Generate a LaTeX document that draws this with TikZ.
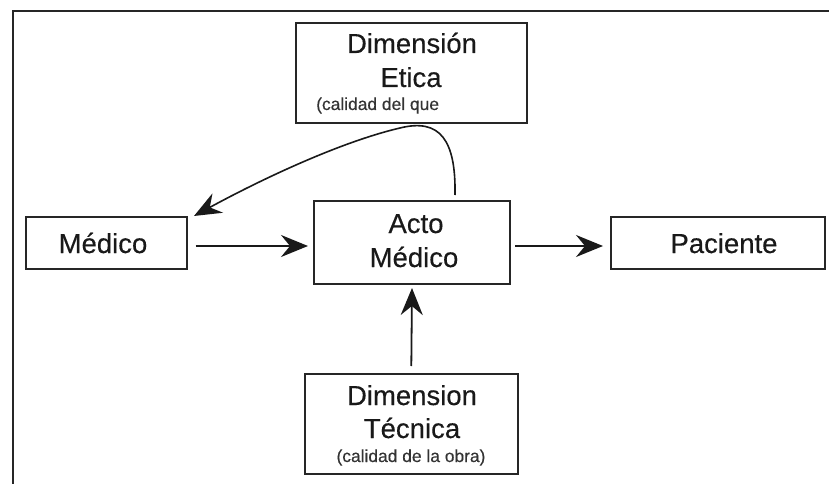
\documentclass[tikz,border=0pt]{standalone}
\usepackage{fontspec}
\setmainfont{Liberation Sans}[FakeBold=0.3]
\usetikzlibrary{arrows.meta}
\begin{document}
\begin{tikzpicture}[x=1pt,y=-1pt,
  box/.style={draw=black!85,line width=2pt,inner sep=0pt},
  bigtxt/.style={font=\fontsize{27.5}{33}\selectfont,text=black!90,inner sep=0pt,anchor=base},
  smalltxt/.style={font=\fontsize{17.4}{20}\selectfont,text=black!80,inner sep=0pt,anchor=base},
  arr/.style={draw=black!90,line width=1.8pt,-{Stealth[length=27pt,width=22pt,inset=9pt]}}]
\useasboundingbox (0,0) rectangle (829,484);
% frame
\draw[line width=2pt,black!85] (829,11) -- (12.5,11) -- (12.5,484);
% boxes
\node[box,minimum width=231pt,minimum height=100pt] (etica) at (411.5,72.7) {};
\node[box,minimum width=161pt,minimum height=52pt] (medico) at (106,243) {};
\node[box,minimum width=196pt,minimum height=83pt] (acto) at (412,242.5) {};
\node[box,minimum width=214pt,minimum height=52pt] (paciente) at (718,243) {};
\node[box,minimum width=213.4pt,minimum height=100pt] (tecnica) at (411.3,424) {};
% texts
\node[bigtxt] (t1) at (412,53) {Dimensión};
\node[bigtxt] (t2) at (411,87) {Etica};
\node[smalltxt,anchor=base west] (t3) at (316,110) {(calidad del que};
\node[bigtxt] (t4) at (103,253) {Médico};
\node[bigtxt] (t5) at (416,233) {Acto};
\node[bigtxt] (t6) at (414,267) {Médico};
\node[bigtxt] (t7) at (724,253) {Paciente};
\node[bigtxt] (t8) at (412,405) {Dimension};
\node[bigtxt] (t9) at (412,438) {Técnica};
\node[smalltxt] (t10) at (411,462) {(calidad de la obra)};
% connectors
\draw[arr] ([xshift=8pt,yshift=-3pt]medico.east) -- ([xshift=-5pt,yshift=-3.5pt]acto.west);
\draw[arr] ([xshift=4pt,yshift=-3.5pt]acto.east) -- ([xshift=-7pt,yshift=-3pt]paciente.west);
\draw[arr] ([yshift=7pt]tecnica.north) -- ([yshift=-3pt]acto.south);
\coordinate (cs) at ([xshift=43pt,yshift=5pt]acto.north);
\coordinate (ce) at ([xshift=6.5pt]medico.north east);
\draw[arr,line width=1.6pt] (cs) .. controls (456,140) and (440,118) .. (400,128) .. controls (340,142) and (260,180) .. (ce);
\end{tikzpicture}
\end{document}
